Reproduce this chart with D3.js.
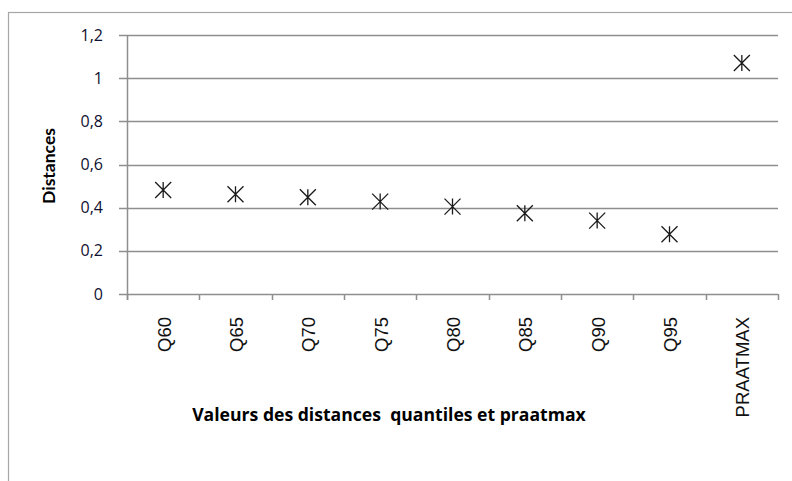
<!DOCTYPE html>
<html>
<head>
<meta charset="utf-8">
<script src="https://cdn.jsdelivr.net/npm/d3@7"></script>
<style>
  body { margin: 0; background: #fff; }
  svg { display: block; }
</style>
</head>
<body>
<svg id="chart" width="792" height="481"></svg>
<script>
// categories and values
var categories = ["Q60", "Q65", "Q70", "Q75", "Q80", "Q85", "Q90", "Q95", "PRAATMAX"];
var distances = [0.482, 0.462, 0.448, 0.428, 0.405, 0.374, 0.340, 0.277, 1.07];
var yTicks = [0, 0.2, 0.4, 0.6, 0.8, 1, 1.2];

var svg = d3.select("#chart"),
width = +svg.attr("width"),
height = +svg.attr("height");

var plot = {left: 127, right: 778, top: 35, bottom: 294};

var fr = d3.formatLocale({decimal: ",", thousands: " ", grouping: [3], currency: ["", " €"]});
var fmt = fr.format("~g");

var x = d3.scaleBand()
.domain(categories)
.range([plot.left, plot.right])
.paddingInner(0)
.paddingOuter(0);

var y = d3.scaleLinear()
.domain([0, 1.2])
.range([plot.bottom, plot.top]);

// cadre du graphique (coupé à droite et en bas)
svg.append("rect")
.attr("x", 8.5)
.attr("y", 12.5)
.attr("width", width + 10)
.attr("height", height + 10)
.attr("fill", "none")
.attr("stroke", "#a6a6a6")
.attr("stroke-width", 1.2);

// grille + ticks gauche
svg.append("g")
.selectAll("line")
.data(yTicks)
.enter().append("line")
.attr("x1", plot.left - 8)
.attr("x2", plot.right)
.attr("y1", function(d) { return Math.round(y(d)) + 0.5; })
.attr("y2", function(d) { return Math.round(y(d)) + 0.5; })
.attr("stroke", "#8e8e8e")
.attr("stroke-width", 1.5);

// axe vertical
svg.append("line")
.attr("x1", plot.left + 0.5)
.attr("x2", plot.left + 0.5)
.attr("y1", plot.top)
.attr("y2", plot.bottom + 6)
.attr("stroke", "#8e8e8e")
.attr("stroke-width", 1.5);

// ticks de l'axe horizontal (entre les catégories)
var tickPos = categories.map(function(c) { return x(c); }).concat([x.range()[1]]);
svg.append("g")
.selectAll("line")
.data(tickPos)
.enter().append("line")
.attr("x1", function(d) { return Math.round(d) + 0.5; })
.attr("x2", function(d) { return Math.round(d) + 0.5; })
.attr("y1", plot.bottom)
.attr("y2", plot.bottom + 6)
.attr("stroke", "#8e8e8e")
.attr("stroke-width", 1.5);

// libellés Y
svg.append("g")
.selectAll("text")
.data(yTicks)
.enter().append("text")
.attr("x", 103)
.attr("y", function(d) { return y(d); })
.attr("dy", "0.35em")
.attr("text-anchor", "end")
.attr("font-family", "'Open Sans', Lato, sans-serif")
.attr("font-size", 16)
.attr("fill", "#101030")
.text(function(d) { return fmt(d); });

// libellés X (verticaux)
svg.append("g")
.selectAll("text")
.data(categories)
.enter().append("text")
.attr("transform", function(d) {
	return "translate(" + (x(d) + x.bandwidth() / 2 + 1) + "," + 317 + ") rotate(-90)";
})
.attr("dy", "0.35em")
.attr("text-anchor", "end")
.attr("font-family", "'Liberation Sans', Arial, sans-serif")
.attr("font-size", 18.5)
.attr("fill", "#111")
.text(function(d) { return d; });

// titres des axes
svg.append("text")
.attr("transform", "translate(49,166) rotate(-90)")
.attr("dy", "0.35em")
.attr("text-anchor", "middle")
.attr("font-family", "Lato, 'Open Sans', sans-serif")
.attr("font-weight", "bold")
.attr("font-size", 17.5)
.attr("fill", "#000")
.text("Distances");

svg.append("text")
.attr("x", 389)
.attr("y", 415)
.attr("dy", "0.35em")
.attr("text-anchor", "middle")
.attr("font-family", "'Open Sans', Lato, sans-serif")
.attr("font-weight", "bold")
.attr("font-size", 17.6)
.attr("fill", "#000")
.style("white-space", "pre")
.text("Valeurs des distances  quantiles et praatmax");

// marqueurs étoile (X + barre verticale)
var s = 8;
var star = "M" + (-s) + "," + (-s) + "L" + s + "," + s +
"M" + s + "," + (-s) + "L" + (-s) + "," + s +
"M0," + (-s) + "L0," + s;

svg.append("g")
.selectAll("path")
.data(distances)
.enter().append("path")
.attr("transform", function(d, i) {
	return "translate(" + (x(categories[i]) + x.bandwidth() / 2) + "," + y(d) + ")";
})
.attr("d", star)
.attr("fill", "none")
.attr("stroke", "#1a1a1a")
.attr("stroke-width", 1.3);
</script>
</body>
</html>
